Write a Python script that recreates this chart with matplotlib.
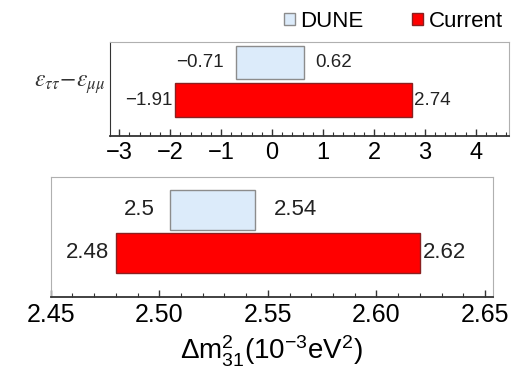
import matplotlib
matplotlib.use('Agg')
import matplotlib.pyplot as plt
from matplotlib.patches import Patch
from matplotlib.ticker import MultipleLocator, FormatStrFormatter

plt.rcParams['font.family'] = ['Liberation Sans', 'DejaVu Sans']
plt.rcParams['mathtext.fontset'] = 'custom'
plt.rcParams['mathtext.rm'] = 'Liberation Sans'
plt.rcParams['mathtext.it'] = 'Liberation Sans:italic'

# data
series = ['DUNE', 'Current']
eps_low = [-0.71, -1.91]
eps_high = [0.62, 2.74]
dm_low = [2.505, 2.48]
dm_high = [2.544, 2.62]
dm_low_txt = ['2.5', '2.48']
dm_high_txt = ['2.54', '2.62']
eps_low_txt = ['\u22120.71', '\u22121.91']
eps_high_txt = ['0.62', '2.74']

face = ['#dcebfa', '#ff0000']
edge = ['#8c8c8c', '#8a2020']
ypos = [1, 0]

W, H = 524, 369
fig = plt.figure(figsize=(W / 100, H / 100), dpi=100)
fig.patch.set_facecolor('white')

def style_axes(ax, left_dark):
    for s in ['top', 'right']:
        ax.spines[s].set_color('#b0b0b0')
    ax.spines['left'].set_color('#333333' if left_dark else '#b0b0b0')
    ax.spines['bottom'].set_color('#333333')
    ax.spines['bottom'].set_linewidth(1.3)
    ax.tick_params(axis='x', which='major', direction='in', length=5, width=1, color='#333333')
    ax.tick_params(axis='x', which='minor', direction='in', length=3, width=0.8, color='#333333')

# top panel
ax1 = fig.add_axes([110 / W, 1 - 136 / H, 399 / W, 94 / H])
for i in range(2):
    ax1.barh(ypos[i], eps_high[i] - eps_low[i], left=eps_low[i], height=0.9,
             color=face[i], edgecolor=edge[i], linewidth=1)
ax1.set_xlim(-3.18, 4.65)
ax1.set_ylim(-0.96, 1.55)
ax1.xaxis.set_major_locator(MultipleLocator(1))
ax1.xaxis.set_minor_locator(MultipleLocator(0.2))
ax1.tick_params(axis='x', labelsize=17, pad=4)
ax1.set_yticks([0.55])
ax1.set_yticklabels([r'$\varepsilon_{\tau\tau}\!-\!\varepsilon_{\mu\mu}$'], fontsize=17,
                    math_fontfamily='stix', color='#333333')
ax1.tick_params(axis='y', length=0, pad=3)
style_axes(ax1, True)

lo_off = [-12, -2]
hi_off = [12, 2]
for i in range(2):
    ax1.annotate(eps_low_txt[i], (eps_low[i], ypos[i]), xytext=(lo_off[i], 0),
                 textcoords='offset pixels', ha='right', va='center', fontsize=13.5, color='#222222')
    ax1.annotate(eps_high_txt[i], (eps_high[i], ypos[i]), xytext=(hi_off[i], 0),
                 textcoords='offset pixels', ha='left', va='center', fontsize=13.5, color='#222222')

# bottom panel
ax2 = fig.add_axes([50.7 / W, 1 - 297 / H, 442 / W, 120 / H])
for i in range(2):
    ax2.barh(ypos[i], dm_high[i] - dm_low[i], left=dm_low[i], height=0.93,
             color=face[i], edgecolor=edge[i], linewidth=1)
ax2.set_xlim(2.45, 2.6535)
ax2.set_ylim(-1.02, 1.755)
ax2.set_yticks([])
ax2.xaxis.set_major_locator(MultipleLocator(0.05))
ax2.xaxis.set_minor_locator(MultipleLocator(0.01))
ax2.xaxis.set_major_formatter(FormatStrFormatter('%.2f'))
ax2.tick_params(axis='x', labelsize=18, pad=4)
ax2.set_xlabel(r'$\Delta\mathrm{m}^2_{31}(10^{-3}\mathrm{eV}^2)$', fontsize=20, labelpad=5)
style_axes(ax2, False)

lo_off2 = [-15, -7]
hi_off2 = [19, 3]
for i in range(2):
    ax2.annotate(dm_low_txt[i], (dm_low[i], ypos[i]), xytext=(lo_off2[i], 0),
                 textcoords='offset pixels', ha='right', va='center', fontsize=16, color='#222222')
    ax2.annotate(dm_high_txt[i], (dm_high[i], ypos[i]), xytext=(hi_off2[i], 0),
                 textcoords='offset pixels', ha='left', va='center', fontsize=16, color='#222222')

# legend
handles = [Patch(facecolor=face[i], edgecolor=edge[i], label=series[i]) for i in range(2)]
fig.legend(handles=handles, loc='upper right', bbox_to_anchor=(512 / W, 1 - 2 / H),
           ncol=2, frameon=False, fontsize=16, handlelength=0.5, handleheight=0.5,
           handletextpad=0.25, columnspacing=2.2, borderaxespad=0)

fig.savefig('out.png', dpi=100)
